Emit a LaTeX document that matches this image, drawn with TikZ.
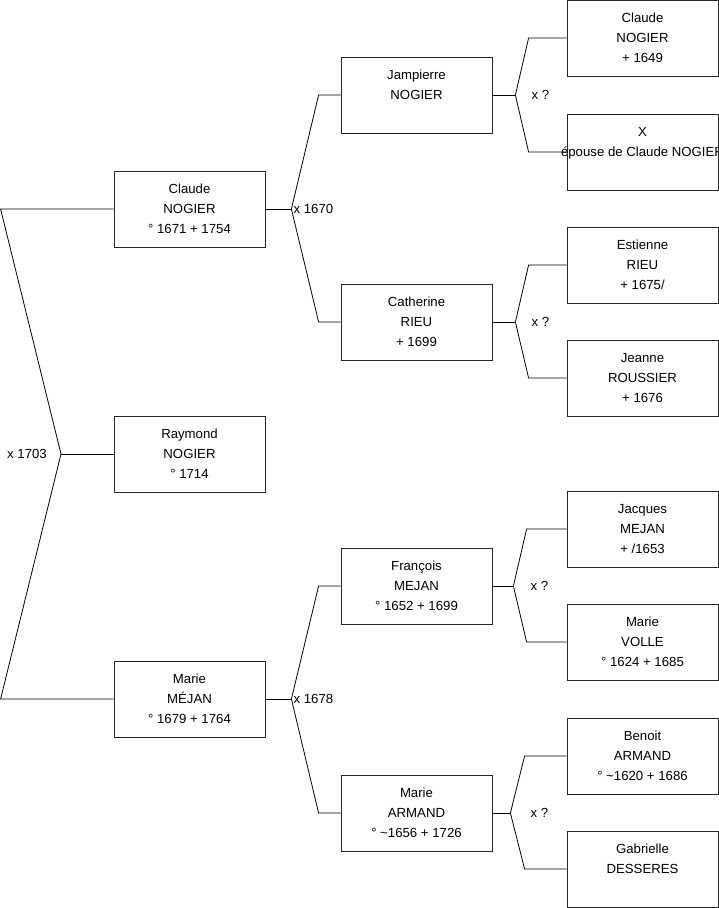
\documentclass[tikz,border=0pt]{standalone}
\usepackage{fontspec}
\setmainfont{Liberation Sans}
\usetikzlibrary{positioning}

\begin{document}
\begin{tikzpicture}[
  x=1pt,y=-1pt,
  person/.style={draw=black!85,line width=0.8pt,minimum width=151pt,minimum height=76pt,
    inner sep=0pt,align=center,font=\fontsize{13.2}{20}\selectfont},
  link/.style={draw=black,line width=0.8pt},
  union/.style={inner sep=0pt,font=\fontsize{13.2}{14}\selectfont}
]
\useasboundingbox (0,0) rectangle (719,908);

% generation 1
\node[person] (claude) at (189.5,209) {Claude\\NOGIER\\° 1671 + 1754};
\node[person] (raymond) at (189.5,454) {Raymond\\NOGIER\\° 1714};
\node[person] (marie) at (189.5,699) {Marie\\MÉJAN\\° 1679 + 1764};

% generation 2
\node[person] (jampierre) at (416.5,95) {Jampierre\\NOGIER\\\phantom{1}};
\node[person] (catherine) at (416.5,322) {Catherine\\RIEU\\+ 1699};
\node[person] (francois) at (416.5,586) {François\\MEJAN\\° 1652 + 1699};
\node[person] (armand) at (416.5,813) {Marie\\ARMAND\\° \textasciitilde1656 + 1726};

% generation 3
\node[person] (claudeb) at (642.5,38) {Claude\\NOGIER\\+ 1649};
\node[person] (epouse) at (642.5,152) {X\\\makebox[0pt]{épouse de Claude NOGIER}\\\phantom{1}};
\node[person] (estienne) at (642.5,265) {Estienne\\RIEU\\+ 1675/};
\node[person] (jeanne) at (642.5,378) {Jeanne\\ROUSSIER\\+ 1676};
\node[person] (jacques) at (642.5,529) {Jacques\\MEJAN\\+ /1653};
\node[person] (volle) at (642.5,642) {Marie\\VOLLE\\° 1624 + 1685};
\node[person] (benoit) at (642.5,756) {Benoit\\ARMAND\\° \textasciitilde1620 + 1686};
\node[person] (gabrielle) at (642.5,869) {Gabrielle\\DESSERES\\\phantom{1}};

% unions
\coordinate (j1703) at (61,454);
\coordinate[right=26pt of claude.east] (j1670);
\coordinate[right=26pt of marie.east] (j1678);
\coordinate[right=23pt of jampierre.east] (jnogier);
\coordinate[right=23pt of catherine.east] (jrieu);
\coordinate[right=21pt of francois.east] (jmejan);
\coordinate[right=18pt of armand.east] (jarmand);

\node[union,left=14pt of j1703] (m1703) {x 1703};
\node[union,right=2pt of j1670] (m1670) {x 1670};
\node[union,right=2pt of j1678] (m1678) {x 1678};
\node[union,right=16pt of jnogier] (mnogier) {x ?};
\node[union,right=16pt of jrieu] (mrieu) {x ?};
\node[union,right=17pt of jmejan] (mmejan) {x ?};
\node[union,right=20pt of jarmand] (marmand) {x ?};

\draw[link] (claude.west) -- ([xshift=-113pt]claude.west) -- (j1703)
  -- ([xshift=-113pt]marie.west) -- (marie.west);
\draw[link] (j1703) -- (raymond.west);

\draw[link] (claude.east) -- (j1670);
\draw[link] (jampierre.west) -- ([xshift=-22pt]jampierre.west) -- (j1670)
  -- ([xshift=-22pt]catherine.west) -- (catherine.west);
\draw[link] (marie.east) -- (j1678);
\draw[link] (francois.west) -- ([xshift=-22pt]francois.west) -- (j1678)
  -- ([xshift=-22pt]armand.west) -- (armand.west);

\draw[link] (jampierre.east) -- (jnogier);
\draw[link] (claudeb.west) -- ([xshift=-38pt]claudeb.west) -- (jnogier)
  -- ([xshift=-38pt]epouse.west) -- (epouse.west);
\draw[link] (catherine.east) -- (jrieu);
\draw[link] (estienne.west) -- ([xshift=-38pt]estienne.west) -- (jrieu)
  -- ([xshift=-38pt]jeanne.west) -- (jeanne.west);
\draw[link] (francois.east) -- (jmejan);
\draw[link] (jacques.west) -- ([xshift=-40pt]jacques.west) -- (jmejan)
  -- ([xshift=-40pt]volle.west) -- (volle.west);
\draw[link] (armand.east) -- (jarmand);
\draw[link] (benoit.west) -- ([xshift=-42pt]benoit.west) -- (jarmand)
  -- ([xshift=-42pt]gabrielle.west) -- (gabrielle.west);
\end{tikzpicture}
\end{document}
